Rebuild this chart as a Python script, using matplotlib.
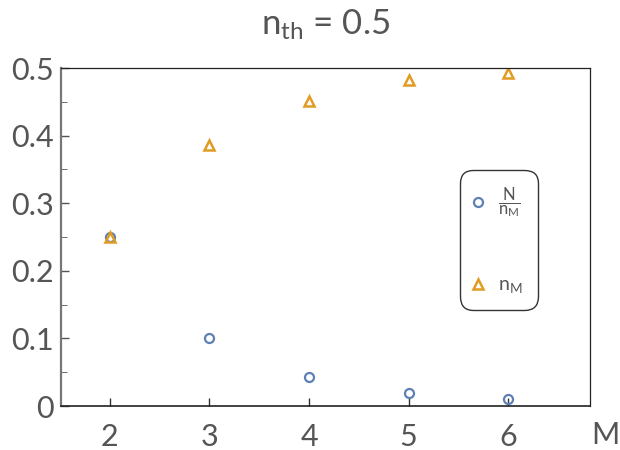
import matplotlib
matplotlib.use('Agg')
import matplotlib.pyplot as plt
from matplotlib.ticker import MultipleLocator, FuncFormatter

plt.rcParams['font.family'] = ['Lato', 'DejaVu Sans']
plt.rcParams['mathtext.fontset'] = 'custom'
plt.rcParams['mathtext.rm'] = 'Lato'
plt.rcParams['mathtext.it'] = 'Lato'

M = [2, 3, 4, 5, 6]
ratio_vals = [0.25, 0.100, 0.043, 0.019, 0.010]
nM_vals = [0.250, 0.386, 0.451, 0.482, 0.493]

TXT = "#555555"
BLUE = "#5E81B5"
ORANGE = "#E19C24"

fig = plt.figure(figsize=(6.2, 4.5), dpi=100)
ax = fig.add_axes([61/620, 1 - 406/450, (590-61)/620, (406-68)/450])

ax.plot(M, ratio_vals, 'o', mfc='none', mec=BLUE, mew=1.6, ms=6.5,
        label=r'$\dfrac{\mathrm{N}}{\mathrm{n_M}}$')
ax.plot(M, nM_vals, '^', mfc='none', mec=ORANGE, mew=1.8, ms=7,
        label=r'$\mathrm{n_M}$')

ax.set_xlim(1.51, 6.82)
ax.set_ylim(0, 0.5)
ax.set_xticks(M)
ax.yaxis.set_major_locator(MultipleLocator(0.1))
ax.yaxis.set_minor_locator(MultipleLocator(0.05))
ax.yaxis.set_major_formatter(FuncFormatter(lambda v, p: "0" if abs(v) < 1e-9 else f"{v:.1f}"))
ax.tick_params(axis='both', direction='in', labelsize=22, colors=TXT,
               labelcolor=TXT, length=6, width=1, top=False, right=False)
ax.tick_params(axis='x', pad=12, colors='#333333', labelcolor=TXT)
ax.tick_params(axis='y', pad=5)
ax.tick_params(axis='y', which='minor', direction='in', length=4, colors=TXT, right=False)
for s in ['top', 'right']:
    ax.spines[s].set_color('#222222')
    ax.spines[s].set_linewidth(0.9)
ax.spines['left'].set_color('#777777')
ax.spines['left'].set_linewidth(1.6)
ax.spines['bottom'].set_color('#222222')
ax.spines['bottom'].set_linewidth(1.2)

ax.text(1.003, -0.085, "M", transform=ax.transAxes, fontsize=22, color=TXT,
        ha='left', va='center')

ax.set_title(r"n$_{\mathrm{th}}$ = 0.5", fontsize=25, color=TXT, pad=24)

leg = ax.legend(loc='upper left', bbox_to_anchor=(0.748, 0.708), frameon=True,
                fancybox=True, edgecolor='black', fontsize=12, labelspacing=3.4,
                handletextpad=1.0, borderpad=0.8, borderaxespad=0.3,
                handlelength=0.4, labelcolor=TXT)
leg.get_texts()[1].set_fontsize(14)
leg.get_frame().set_linewidth(1.0)
leg.get_frame().set_boxstyle('round,pad=0.1,rounding_size=0.8')

fig.savefig("out.png", dpi=100)
